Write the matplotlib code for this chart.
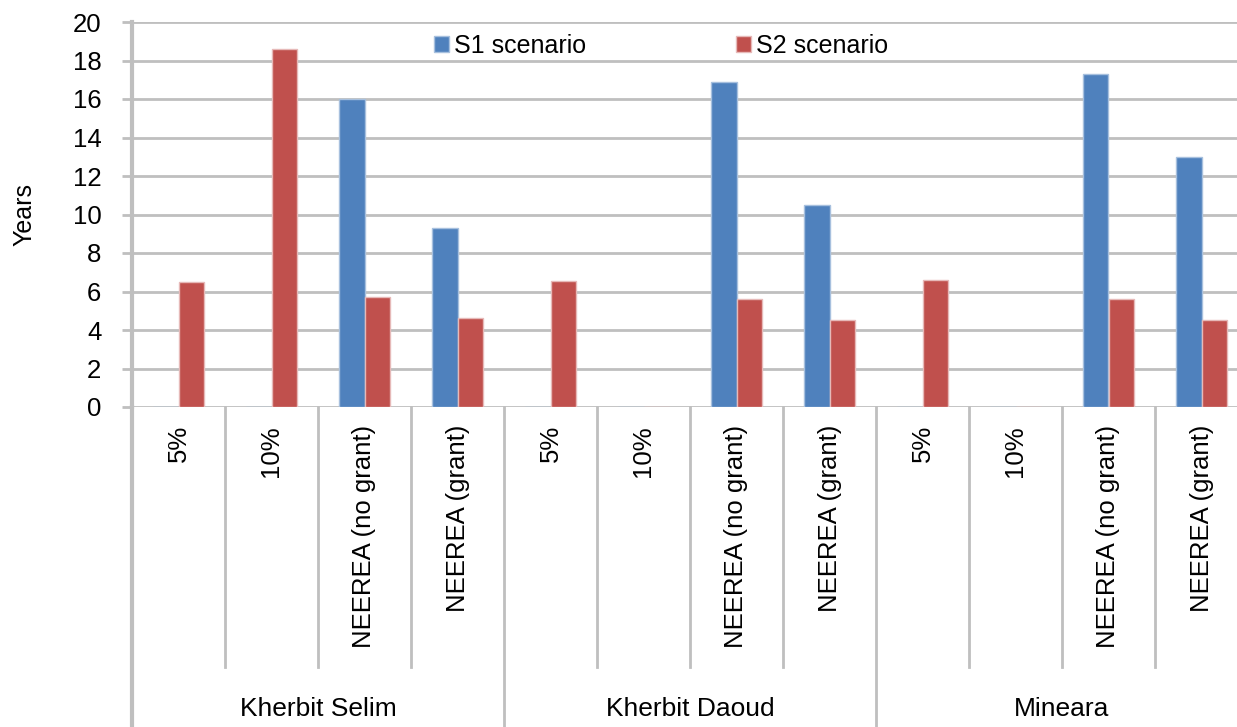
import numpy as np
import matplotlib.pyplot as plt
from matplotlib.patches import Patch
import matplotlib.transforms as mtransforms

plt.rcParams['font.family'] = ['Liberation Sans', 'DejaVu Sans']

# payback period per financing option, grouped by village
groups = ["Kherbit Selim", "Kherbit Daoud", "Mineara"]
options = ["5%", "10%", "NEEREA (no grant)", "NEEREA (grant)"]
s1 = [0, 0, 16.0, 9.3,
      0, 0, 16.9, 10.5,
      0, 0, 17.3, 13.0]
s2 = [6.5, 18.6, 5.7, 4.6,
      6.55, 0, 5.6, 4.5,
      6.6, 0, 5.6, 4.5]

blue = '#4F81BD'
red = '#C0504D'
grid_c = '#BFBFBF'

fig = plt.figure(figsize=(12.37, 7.27), dpi=100)
ax = fig.add_axes([132/1237, 1 - 407/727, 1116/1237, 385/727])

n = len(s1)
x = np.arange(n) + 0.5
w = 0.27
ax.bar(x - w/2, s1, w, color=blue, edgecolor='#A7C0DE', linewidth=1, zorder=3)
ax.bar(x + w/2, s2, w, color=red, edgecolor='#E6B9B8', linewidth=1, zorder=3)

ax.set_xlim(0, n)
ax.set_ylim(0, 20)
ax.set_yticks(np.arange(0, 21, 2))
ax.tick_params(axis='y', labelsize=18.5, length=7, width=2, color=grid_c, pad=15)
ax.yaxis.grid(True, color=grid_c, linewidth=2)
ax.set_axisbelow(True)
for s in ['top', 'right', 'bottom']:
    ax.spines[s].set_visible(False)
ax.spines['left'].set_color(grid_c)
ax.spines['left'].set_linewidth(3)

ax.set_ylabel("Years", fontsize=18, labelpad=26)

# two-level category axis
ax.set_xticks(x)
ax.set_xticklabels(options * len(groups), rotation=90, fontsize=18.5)
ax.tick_params(axis='x', length=0, pad=13)

trans = mtransforms.blended_transform_factory(ax.transData, ax.transAxes)
for i in range(n + 1):
    bottom = -0.84 if i % 4 == 0 else -0.675
    lw = 3 if i == 0 else 2
    ax.plot([i, i], [0, bottom], color=grid_c, linewidth=lw,
            transform=trans, clip_on=False)
for g, name in enumerate(groups):
    ax.text(g * 4 + 2, -0.785, name, transform=trans, ha='center', va='center',
            fontsize=19)

handles = [Patch(facecolor=blue, edgecolor='#A7C0DE'),
           Patch(facecolor=red, edgecolor='#E6B9B8')]
fig.legend(handles, ["S1 scenario", "S2 scenario"], loc='center left',
           bbox_to_anchor=(434/1237, 1 - 46/727), ncol=2, frameon=False,
           fontsize=18, handlelength=0.6, handleheight=0.6, handletextpad=0.2,
           columnspacing=6.0, borderpad=0, borderaxespad=0)

fig.savefig('out.png', dpi=100)
